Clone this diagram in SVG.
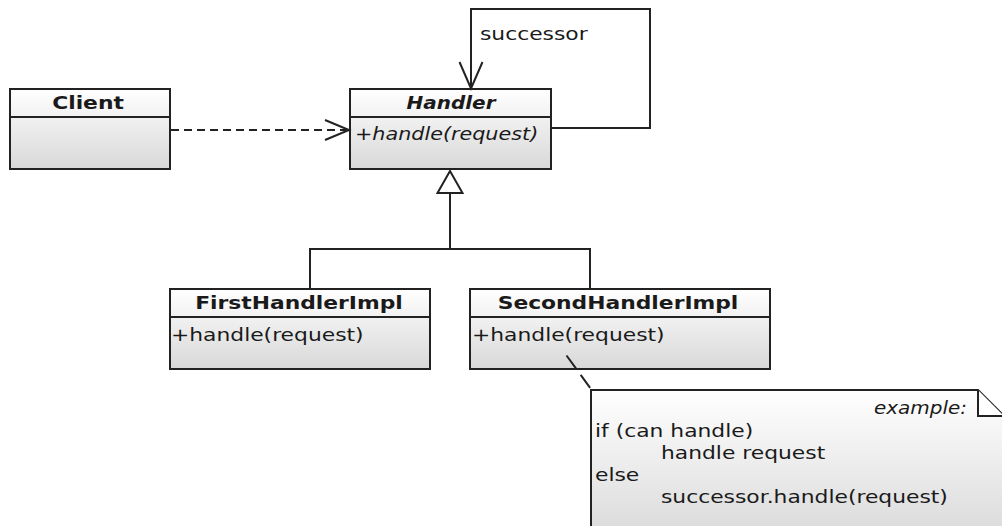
<svg xmlns="http://www.w3.org/2000/svg" width="1002" height="526" viewBox="0 0 1002 526">
<defs>
<linearGradient id="boxGrad" x1="0" y1="0" x2="0" y2="1">
<stop offset="0" stop-color="#ffffff"/>
<stop offset="1" stop-color="#d8d8d8"/>
</linearGradient>
<linearGradient id="noteGrad" x1="0" y1="0" x2="0" y2="1">
<stop offset="0" stop-color="#ffffff"/>
<stop offset="1" stop-color="#dcdcdc"/>
</linearGradient>
</defs>
<style>
.box{fill:url(#boxGrad);stroke:#222;stroke-width:2}
.div{stroke:#222;stroke-width:2;fill:none}
.ln{stroke:#222;stroke-width:2;fill:none}
.dash{stroke:#222;stroke-width:2;fill:none;stroke-dasharray:8 5}
.head{stroke:#222;stroke-width:2;fill:none;stroke-linejoin:miter}
.t{font-family:"DejaVu Sans","Liberation Sans",sans-serif;font-size:18.5px;fill:#1a1a1a}
.b{font-weight:bold}
.i{font-style:italic}
.c{text-anchor:middle}
.e{text-anchor:end}
</style>
<rect width="1002" height="526" fill="#ffffff"/>

<g id="client">
<rect class="box" x="10" y="89" width="160" height="80"/>
<line class="div" x1="10" y1="117" x2="170" y2="117"/>
<text class="t b c" transform="translate(88,109) scale(1.18,1)">Client</text>
</g>

<g id="handler">
<rect class="box" x="350" y="89" width="201" height="80"/>
<line class="div" x1="350" y1="117" x2="551" y2="117"/>
<text class="t b i c" transform="translate(451,109) scale(1.08,1)">Handler</text>
<text class="t i" transform="translate(355,140) scale(1.12,1)">+handle(request)</text>
</g>

<g id="firstHandlerImpl">
<rect class="box" x="170" y="289" width="260" height="80"/>
<line class="div" x1="170" y1="317" x2="430" y2="317"/>
<text class="t b c" transform="translate(299,309) scale(1.18,1)">FirstHandlerImpl</text>
<text class="t" transform="translate(171,341) scale(1.18,1)">+handle(request)</text>
</g>

<g id="secondHandlerImpl">
<rect class="box" x="470" y="289" width="300" height="80"/>
<line class="div" x1="470" y1="317" x2="770" y2="317"/>
<text class="t b c" transform="translate(618,309) scale(1.18,1)">SecondHandlerImpl</text>
<text class="t" transform="translate(472,341) scale(1.18,1)">+handle(request)</text>
</g>

<g id="note">
<path d="M591,390 H978 L1004,416 V530 H591 Z" fill="url(#noteGrad)" stroke="#222" stroke-width="2"/>
<path d="M978,390 V416 H1004" fill="#ffffff" stroke="#222" stroke-width="2"/>
<text class="t i e" transform="translate(967,414) scale(1.08,1)">example:</text>
<text class="t" transform="translate(595,437) scale(1.18,1)">if (can handle)</text>
<text class="t" transform="translate(661,459) scale(1.18,1)">handle request</text>
<text class="t" transform="translate(595,481) scale(1.18,1)">else</text>
<text class="t" transform="translate(661,503) scale(1.18,1)">successor.handle(request)</text>
</g>

<g id="connectors">
<path class="dash" d="M171,130 H346"/>
<path class="head" d="M325,120 L349,130 L325,140"/>
<path class="ln" d="M552,128 H650 V9 H471 V88"/>
<path class="head" d="M459.5,62 L471,88.5 L482.5,62"/>
<path class="ln" d="M450,193 V249 M310,288 V249 H590 V288"/>
<polygon points="450,171 437.5,193 462.5,193" fill="#ffffff" stroke="#222" stroke-width="2"/>
<path class="ln" d="M566.5,355.5 L591,389" stroke-dasharray="16 8"/>
<text class="t" transform="translate(480,40) scale(1.18,1)">successor</text>
</g>
</svg>
